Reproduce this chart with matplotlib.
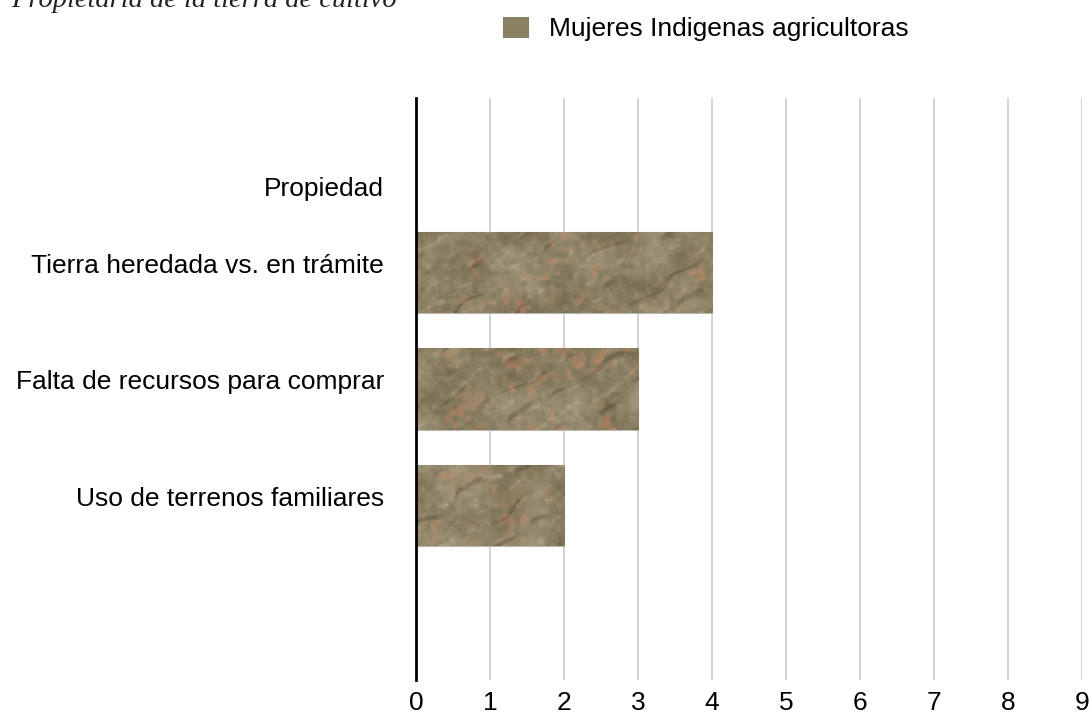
import numpy as np
import matplotlib.pyplot as plt
import matplotlib.transforms as mtransforms
from matplotlib.patches import Patch

# data
categories = ["Propiedad", "Tierra heredada vs. en trámite",
              "Falta de recursos para comprar", "Uso de terrenos familiares", ""]
values = [0, 4, 3, 2, 0]
series_name = "Mujeres Indigenas agricultoras"
title = "Propietaria de la tierra de cultivo"
xticks = list(range(0, 10))

plt.rcParams['font.family'] = ['Liberation Sans', 'DejaVu Sans']


def stone_texture(h, w, seed=3):
    # slate-like texture (styling only)
    rng = np.random.default_rng(seed)
    yy, xx = np.mgrid[0:h, 0:w].astype(float)

    def smooth_noise(cells_y, cells_x):
        g = rng.random((cells_y + 2, cells_x + 2))
        fy = yy / h * cells_y
        fx = xx / w * cells_x
        iy = fy.astype(int)
        ix = fx.astype(int)
        ty = fy - iy
        tx = fx - ix
        ty = ty * ty * (3 - 2 * ty)
        tx = tx * tx * (3 - 2 * tx)
        a = g[iy, ix] * (1 - tx) + g[iy, ix + 1] * tx
        b = g[iy + 1, ix] * (1 - tx) + g[iy + 1, ix + 1] * tx
        return a * (1 - ty) + b * ty

    cx = max(2, w // 30)
    n1 = smooth_noise(3, cx)
    n2 = smooth_noise(6, cx * 2)
    n3 = smooth_noise(14, cx * 5)
    grain = smooth_noise(40, cx * 14)
    diag = xx + 1.5 * yy
    warp = n1 * 4 + n2 * 1.2
    streak = np.sin(diag / 9.0 + warp)
    lines = np.exp(-((streak - 0.97) ** 2) / 0.004) * np.clip((n2 - 0.4) * 2.5, 0, 1)
    streak2 = np.sin(diag / 5.0 + warp * 1.3 + 1.0)
    light = np.exp(-((streak2 + 0.95) ** 2) / 0.006) * np.clip((n3 - 0.5) * 2.5, 0, 1)
    red = np.clip((n2 - 0.5) * 3, 0, 1) * np.clip((n3 - 0.4) * 2, 0, 1)

    base = np.array([142, 131, 102], float) / 255
    tex = np.ones((h, w, 3)) * base
    tex += ((n1 - 0.5) * 0.12 + (n3 - 0.5) * 0.08 + (grain - 0.5) * 0.05)[..., None]
    tex = tex * (1 - 0.45 * lines[..., None]) + np.array([0.30, 0.28, 0.22]) * 0.45 * lines[..., None]
    tex = tex * (1 - 0.3 * light[..., None]) + np.array([0.80, 0.78, 0.70]) * 0.3 * light[..., None]
    tex = tex * (1 - 0.45 * red[..., None]) + np.array([0.78, 0.46, 0.34]) * 0.45 * red[..., None]
    return np.clip(tex, 0, 1)


fig = plt.figure(figsize=(10.89, 7.21), dpi=100)
ax = fig.add_axes([0.382, 0.057, 0.6116, 0.807])

y = np.arange(len(categories))
bars = ax.barh(y, values, height=0.7, color='#8e8669', edgecolor='#bbb8ae',
               linewidth=0.8, zorder=2)

for i, b in enumerate(bars):
    if b.get_width() <= 0:
        continue
    x0, y0 = b.get_x(), b.get_y()
    tex = stone_texture(84, int(75 * b.get_width()), seed=10 + i)
    im = ax.imshow(tex, extent=[x0, x0 + b.get_width(), y0 + b.get_height(), y0],
                   aspect='auto', zorder=3, interpolation='bilinear')
    im.set_clip_path(b)

ax.set_xlim(0, 9)
ax.set_ylim(len(categories) - 0.5, -0.5)
ax.set_aspect('auto')
ax.set_xticks(xticks)
ax.set_yticks(y)
ax.set_yticklabels(categories)
ax.tick_params(axis='both', length=0, labelsize=19, colors='black')
ax.tick_params(axis='y', pad=23)
ax.tick_params(axis='x', pad=8)
ax.xaxis.grid(True, color='#cccccc', linewidth=1.2, zorder=0)
ax.set_axisbelow(True)
for s in ['top', 'right', 'bottom']:
    ax.spines[s].set_visible(False)
ax.spines['left'].set_linewidth(2)
ax.spines['left'].set_color('black')
ax.spines['left'].set_zorder(5)

# labels sit a little above the bar centres; the first one lower
for k, lab in enumerate(ax.get_yticklabels()):
    dy = -30 if k == 0 else 9
    lab.set_transform(lab.get_transform() +
                      mtransforms.ScaledTranslation(0, dy / 100, fig.dpi_scale_trans))

fig.legend(handles=[Patch(facecolor='#8a8163', edgecolor='none', label=series_name)],
           loc='upper left', bbox_to_anchor=(0.44, 1.01), frameon=False,
           fontsize=19, handlelength=1.0, handleheight=0.87, handletextpad=0.75)

fig.text(0.01, 1 - 7 / 721, title, family=['Liberation Serif', 'DejaVu Serif'],
         style='italic', fontsize=20.5, va='baseline', ha='left', color='#222222')

fig.savefig('out.png', dpi=100)
